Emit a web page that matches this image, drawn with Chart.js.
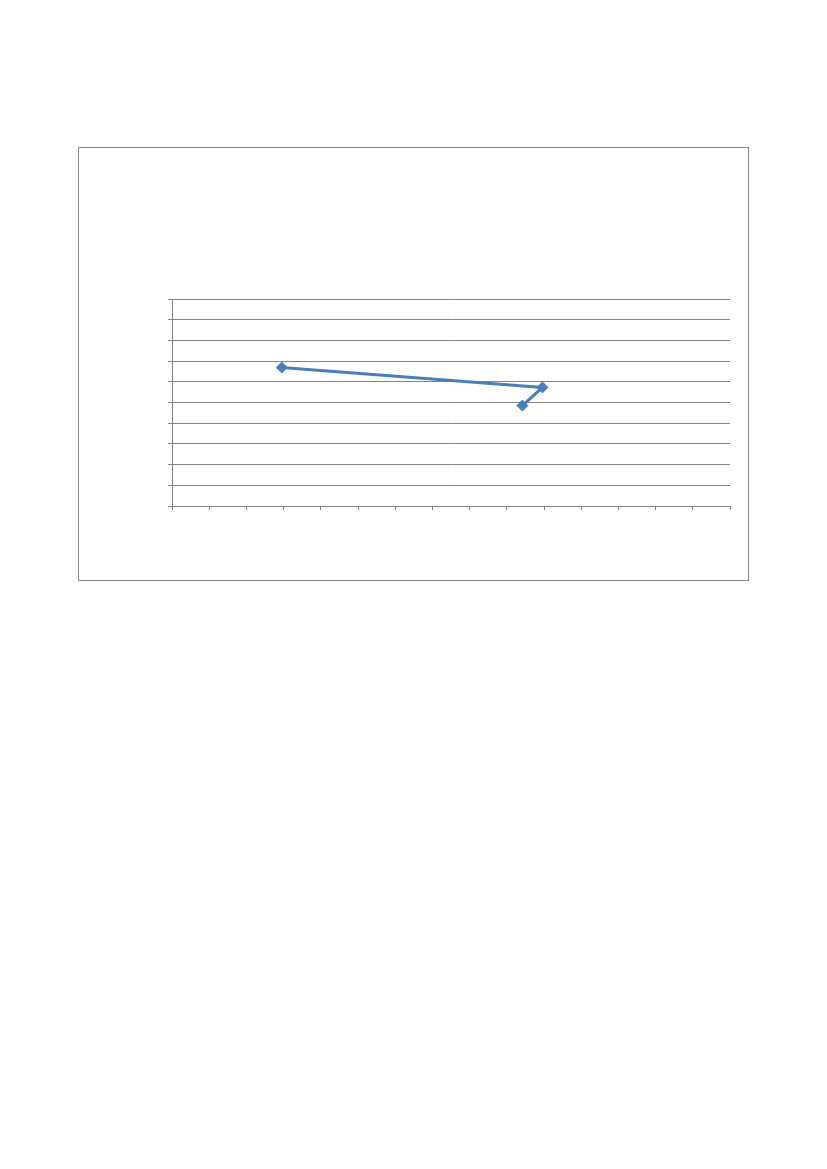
<!DOCTYPE html>
<html lang="en">
<head>
    <meta charset="UTF-8">
    <title>Chart</title>
    <script src="https://cdn.jsdelivr.net/npm/chart.js"></script>
    <style>
        html, body { margin: 0; padding: 0; background: #fff; }
        #frame {
            position: absolute;
            left: 78px;
            top: 147px;
            width: 669px;
            height: 432px;
            border: 1px solid #878787;
        }
        #chart { display: block; }
    </style>
</head>
<body>
    <div id="frame">
        <canvas id="chart" width="669" height="432"></canvas>
    </div>

    <script>
        // values
        const xValues = [2.95, 9.96, 9.42];
        const yValues = [6.69, 5.73, 4.85];
        const xRange = [0, 15];
        const yRange = [0, 10];

        const points = xValues.map((x, i) => ({ x: x, y: yValues[i] }));
        const gray = '#848484';
        const blue = '#4a7ebb';

        new Chart(document.getElementById('chart').getContext('2d'), {
            type: 'scatter',
            data: {
                datasets: [{
                    data: points,
                    showLine: true,
                    borderColor: blue,
                    backgroundColor: blue,
                    borderWidth: 3,
                    pointStyle: 'rectRot',
                    pointRadius: 5.5,
                    pointBorderWidth: 1
                }]
            },
            options: {
                responsive: false,
                animation: false,
                devicePixelRatio: 1,
                layout: { padding: { left: 85, top: 151, right: 18, bottom: 66 } },
                plugins: {
                    legend: { display: false },
                    tooltip: { enabled: false }
                },
                scales: {
                    x: {
                        type: 'linear',
                        min: xRange[0],
                        max: xRange[1],
                        ticks: { display: false, stepSize: 1 },
                        grid: { drawOnChartArea: false, drawTicks: true, tickLength: 4, color: gray },
                        border: { color: gray, width: 1 },
                        afterFit: function(scale) { scale.height = 8; }
                    },
                    y: {
                        type: 'linear',
                        min: yRange[0],
                        max: yRange[1],
                        ticks: { display: false, stepSize: 1 },
                        grid: { drawTicks: true, tickLength: 4, color: gray },
                        border: { color: gray, width: 1 },
                        afterFit: function(scale) { scale.width = 8; }
                    }
                }
            }
        });
    </script>
</body>
</html>
